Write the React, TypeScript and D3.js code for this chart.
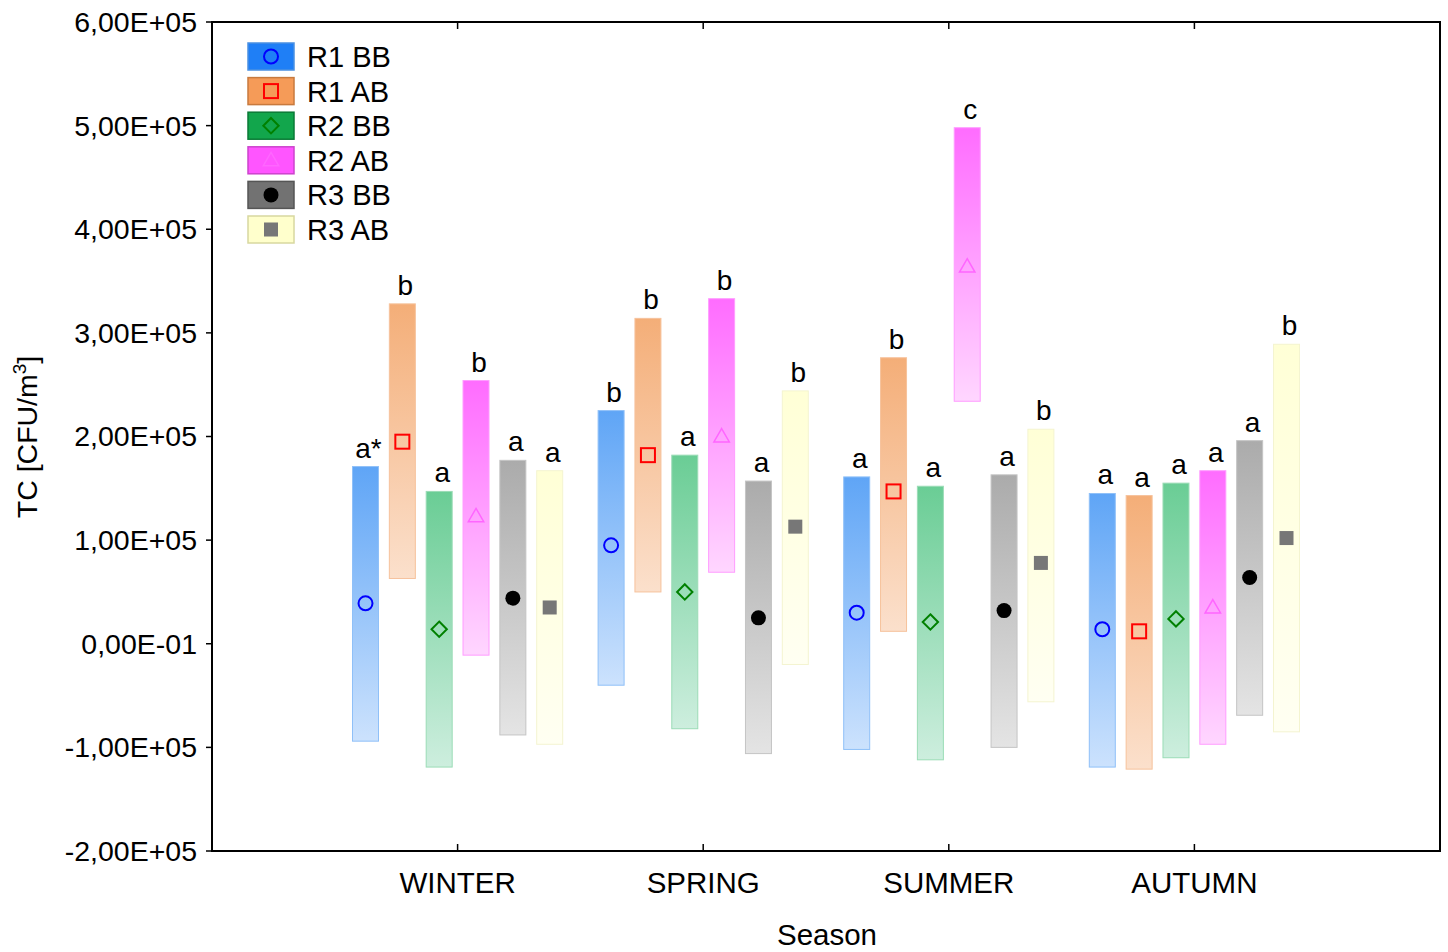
import React from 'react';
import * as d3 from 'd3';

// seasons on the x axis
const seasons = ['WINTER', 'SPRING', 'SUMMER', 'AUTUMN'];
const seriesNames = ['R1 BB', 'R1 AB', 'R2 BB', 'R2 AB', 'R3 BB', 'R3 AB'];

// values in CFU/m3 (x 1e5), one row per series, one column per season
const upper = [
  [1.71, 2.25, 1.61, 1.45],
  [3.28, 3.14, 2.76, 1.43],
  [1.47, 1.82, 1.52, 1.55],
  [2.54, 3.33, 4.98, 1.67],
  [1.77, 1.57, 1.63, 1.96],
  [1.67, 2.44, 2.07, 2.89],
];
const lower = [
  [-0.94, -0.4, -1.02, -1.19],
  [0.63, 0.5, 0.12, -1.21],
  [-1.19, -0.82, -1.12, -1.1],
  [-0.11, 0.69, 2.34, -0.97],
  [-0.88, -1.06, -1.0, -0.69],
  [-0.97, -0.2, -0.56, -0.85],
];
const means = [
  [0.39, 0.95, 0.3, 0.14],
  [1.95, 1.82, 1.47, 0.12],
  [0.14, 0.5, 0.21, 0.24],
  [1.23, 2.0, 3.64, 0.35],
  [0.44, 0.25, 0.32, 0.64],
  [0.35, 1.13, 0.78, 1.02],
];
const letters = [
  ['a*', 'b', 'a', 'a'],
  ['b', 'b', 'b', 'a'],
  ['a', 'a', 'a', 'a'],
  ['b', 'b', 'c', 'a'],
  ['a', 'a', 'a', 'a'],
  ['a', 'b', 'b', 'b'],
];
const yTicks = [6, 5, 4, 3, 2, 1, 0, -1, -2];
const yTickLabels = ['6,00E+05', '5,00E+05', '4,00E+05', '3,00E+05', '2,00E+05', '1,00E+05', '0,00E-01', '-1,00E+05', '-2,00E+05'];

// styles per series
const gradTop = ['#5fa5f6', '#f4ae78', '#6acd95', '#ff6cff', '#ababab', '#ffffd6'];
const gradBottom = ['#cce2fd', '#fbe0cc', '#cdeede', '#ffd6ff', '#e4e4e4', '#fffff2'];
const barStroke = ['#8fc0f8', '#f6c29c', '#9bdcb6', '#ff9cff', '#c4c4c4', '#f4f4d0'];
const legendFill = ['#1f7ff6', '#f59b58', '#12a64c', '#ff55ff', '#727272', '#ffffcc'];
const legendStroke = ['#4a90e2', '#c87a3e', '#0a7a36', '#cc44cc', '#555555', '#d8d8a0'];

const W = 1448, H = 952;
const left = 212, right = 1440, top = 22, bottom = 851;
const font = '"Liberation Sans", Arial, sans-serif';

function Marker({ i, x, y }: { i: number; x: number; y: number }) {
  if (i === 0) return <circle cx={x} cy={y} r={7} fill="none" stroke="#0000ff" strokeWidth={2} />;
  if (i === 1) return <rect x={x - 7} y={y - 7} width={14} height={14} fill="none" stroke="#ff0000" strokeWidth={2} />;
  if (i === 2) {
    const p = d3.symbol(d3.symbolDiamond2, 150)();
    return <path d={p || ''} transform={`translate(${x},${y})`} fill="none" stroke="#008000" strokeWidth={2} />;
  }
  if (i === 3) {
    const p = d3.symbol(d3.symbolTriangle2, 170)();
    return <path d={p || ''} transform={`translate(${x},${y + 1})`} fill="none" stroke="#ff66ff" strokeWidth={1.5} />;
  }
  if (i === 4) return <circle cx={x} cy={y} r={7.5} fill="#000" />;
  return <rect x={x - 7} y={y - 7} width={14} height={14} fill="#777" />;
}

export default function App() {
  const x = d3.scaleLinear().domain([0, 5]).range([left, right]);
  const y = d3.scaleLinear().domain([-2, 6]).range([bottom, top]);
  const step = 0.15;
  const bw = 26;

  return (
    <svg width={W} height={H} style={{ position: 'absolute', left: 0, top: 0, background: '#fff' }} fontFamily={font}>
      <defs>
        {seriesNames.map((s, i) => (
          <linearGradient key={s} id={`g${i}`} x1="0" y1="0" x2="0" y2="1">
            <stop offset="0" stopColor={gradTop[i]} />
            <stop offset="1" stopColor={gradBottom[i]} />
          </linearGradient>
        ))}
      </defs>

      {/* bars */}
      {seriesNames.map((s, i) =>
        seasons.map((season, c) => {
          const cx = x(c + 1 + (i - 2.5) * step);
          const y0 = y(upper[i][c]);
          const y1 = y(lower[i][c]);
          return (
            <g key={s + season}>
              <rect x={cx - bw / 2} y={y0} width={bw} height={y1 - y0} fill={`url(#g${i})`} stroke={barStroke[i]} strokeWidth={1} />
              <text x={cx + 3} y={y0 - 9} fontSize={28} textAnchor="middle" fill="#000">{letters[i][c]}</text>
              <Marker i={i} x={cx} y={y(means[i][c])} />
            </g>
          );
        })
      )}

      {/* frame */}
      <rect x={left} y={top} width={right - left} height={bottom - top} fill="none" stroke="#000" strokeWidth={2} />

      {/* y axis */}
      {yTicks.map((t, k) => (
        <g key={t}>
          <line x1={left - 6} x2={left} y1={y(t)} y2={y(t)} stroke="#000" strokeWidth={1.5} />
          <text x={197} y={y(t)} dy="0.35em" fontSize={28.5} textAnchor="end">{yTickLabels[k]}</text>
        </g>
      ))}

      {/* x axis */}
      {seasons.map((s, c) => (
        <g key={s}>
          <line x1={x(c + 1)} x2={x(c + 1)} y1={bottom} y2={bottom - 7} stroke="#000" strokeWidth={1.5} />
          <line x1={x(c + 1)} x2={x(c + 1)} y1={top} y2={top + 7} stroke="#000" strokeWidth={1.5} />
          <text x={x(c + 1)} y={893} fontSize={29.5} textAnchor="middle">{s}</text>
        </g>
      ))}

      <text x={827} y={945} fontSize={29.5} textAnchor="middle">Season</text>
      <text transform="translate(37,437) rotate(-90)" fontSize={28.5} textAnchor="middle">
        TC [CFU/m<tspan dy={-11} fontSize={19}>3</tspan><tspan dy={11}>]</tspan>
      </text>

      {/* legend */}
      {seriesNames.map((s, i) => {
        const ly = 43 + i * 34.6;
        return (
          <g key={s}>
            <rect x={248} y={ly} width={46} height={27} fill={legendFill[i]} stroke={legendStroke[i]} strokeWidth={1.5} />
            <Marker i={i} x={271} y={ly + 13.5} />
            <text x={307} y={ly + 24} fontSize={29}>{s}</text>
          </g>
        );
      })}
    </svg>
  );
}
